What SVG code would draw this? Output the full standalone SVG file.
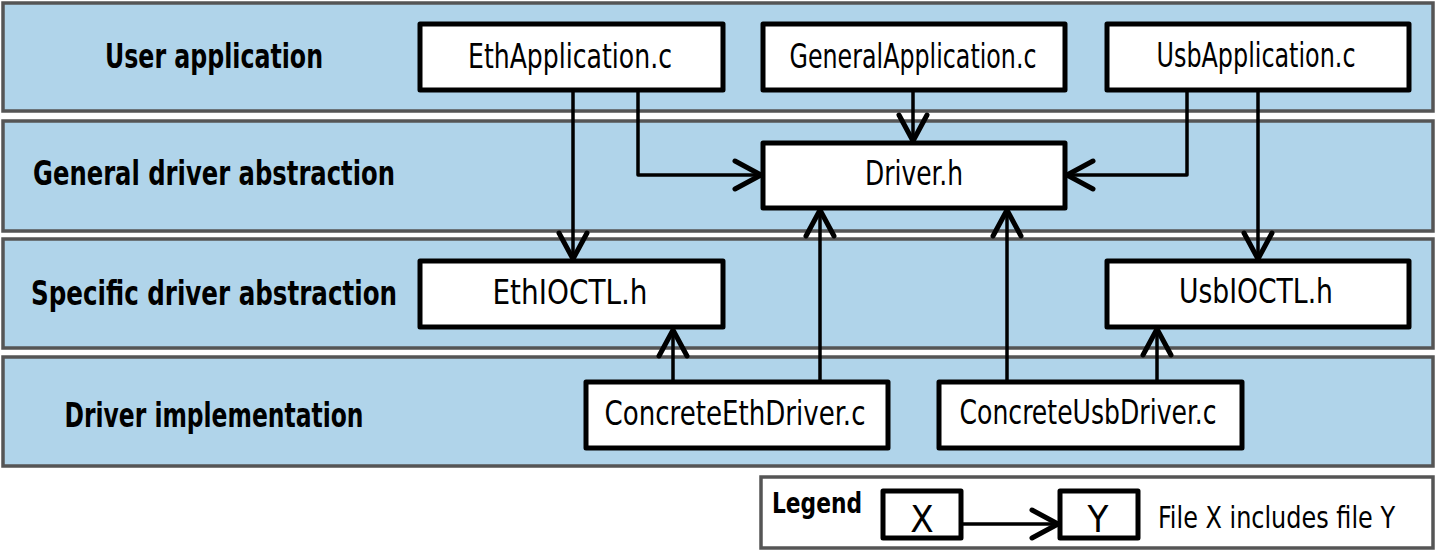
<svg xmlns="http://www.w3.org/2000/svg" width="1441" height="552" viewBox="0 0 1441 552">
  <style>
    .lane { fill: #b0d4ea; stroke: #555555; stroke-width: 3.5; }
    .legendbox { fill: #ffffff; stroke: #555555; stroke-width: 3.5; }
    .node rect { fill: #ffffff; stroke: #000000; stroke-width: 5; stroke-linejoin: round; }
    .lanelabel { font-family: "DejaVu Sans Condensed", "Liberation Sans", "DejaVu Sans", sans-serif; font-weight: bold; font-size: 34px; fill: #000000; text-anchor: middle; }
    .nodelabel { font-family: "DejaVu Sans Condensed", "Liberation Sans", "DejaVu Sans", sans-serif; font-size: 33px; fill: #000000; text-anchor: middle; }
    .legendtext { font-family: "DejaVu Sans Condensed", "Liberation Sans", "DejaVu Sans", sans-serif; fill: #000000; }
    .conn { fill: none; stroke: #000000; stroke-width: 3.5; stroke-linejoin: round; marker-end: url(#arrow); }
  </style>
  <defs>
    <marker id="arrow" markerUnits="userSpaceOnUse" viewBox="-30 -18 34 36" markerWidth="34" markerHeight="36" refX="0" refY="0" orient="auto" overflow="visible">
      <path d="M -26 -14 L 0 0 L -26 14" fill="none" stroke="#000000" stroke-width="5" stroke-linecap="round" stroke-linejoin="round"/>
    </marker>
  </defs>

  <g id="lanes">
    <rect class="lane" x="3" y="3" width="1430" height="108"/>
    <rect class="lane" x="3" y="121" width="1430" height="110"/>
    <rect class="lane" x="3" y="239" width="1430" height="109"/>
    <rect class="lane" x="3" y="357" width="1430" height="109"/>
    <text class="lanelabel" x="214" y="68" textLength="218" lengthAdjust="spacingAndGlyphs">User application</text>
    <text class="lanelabel" x="214" y="185" textLength="362" lengthAdjust="spacingAndGlyphs">General driver abstraction</text>
    <text class="lanelabel" x="214" y="305" textLength="366" lengthAdjust="spacingAndGlyphs">Specific driver abstraction</text>
    <text class="lanelabel" x="214" y="427" textLength="299" lengthAdjust="spacingAndGlyphs">Driver implementation</text>
  </g>

  <g id="connectors">
    <path class="conn" d="M 573 90 L 573 259"/>
    <path class="conn" d="M 638 90 L 638 175 L 761 175"/>
    <path class="conn" d="M 913 90 L 913 141"/>
    <path class="conn" d="M 1187 90 L 1187 175 L 1067 175"/>
    <path class="conn" d="M 1258 90 L 1258 259"/>
    <path class="conn" d="M 673 382 L 673 330"/>
    <path class="conn" d="M 820 382 L 820 210"/>
    <path class="conn" d="M 1007 382 L 1007 210"/>
    <path class="conn" d="M 1157 382 L 1157 329"/>
  </g>

  <g id="EthApplication" class="node">
    <rect x="420" y="24" width="303" height="66"/>
    <text class="nodelabel" x="570" y="68" textLength="204" lengthAdjust="spacingAndGlyphs">EthApplication.c</text>
  </g>
  <g id="GeneralApplication" class="node">
    <rect x="763" y="24" width="302" height="66"/>
    <text class="nodelabel" x="913" y="68" textLength="247" lengthAdjust="spacingAndGlyphs">GeneralApplication.c</text>
  </g>
  <g id="UsbApplication" class="node">
    <rect x="1107" y="24" width="302" height="66"/>
    <text class="nodelabel" x="1256" y="67" textLength="199" lengthAdjust="spacingAndGlyphs">UsbApplication.c</text>
  </g>
  <g id="DriverH" class="node">
    <rect x="763" y="143" width="302" height="65"/>
    <text class="nodelabel" x="914" y="185" textLength="98" lengthAdjust="spacingAndGlyphs">Driver.h</text>
  </g>
  <g id="EthIOCTL" class="node">
    <rect x="420" y="261" width="303" height="66"/>
    <text class="nodelabel" x="570" y="304" textLength="155" lengthAdjust="spacingAndGlyphs">EthIOCTL.h</text>
  </g>
  <g id="UsbIOCTL" class="node">
    <rect x="1107" y="261" width="302" height="66"/>
    <text class="nodelabel" x="1256" y="303" textLength="154" lengthAdjust="spacingAndGlyphs">UsbIOCTL.h</text>
  </g>
  <g id="ConcreteEthDriver" class="node">
    <rect x="586" y="382" width="302" height="66"/>
    <text class="nodelabel" x="735" y="425" textLength="261" lengthAdjust="spacingAndGlyphs">ConcreteEthDriver.c</text>
  </g>
  <g id="ConcreteUsbDriver" class="node">
    <rect x="939" y="382" width="303" height="66"/>
    <text class="nodelabel" x="1088" y="424" textLength="257" lengthAdjust="spacingAndGlyphs">ConcreteUsbDriver.c</text>
  </g>

  <g id="legend">
    <rect class="legendbox" x="761" y="477" width="672" height="71"/>
    <text class="legendtext" x="817" y="513" font-weight="bold" font-size="28" text-anchor="middle" textLength="90" lengthAdjust="spacingAndGlyphs">Legend</text>
    <g id="legend-x" class="node">
      <rect x="883" y="491" width="78" height="47"/>
      <text class="legendtext" x="922" y="532" font-size="38" text-anchor="middle">X</text>
    </g>
    <g id="legend-y" class="node">
      <rect x="1060" y="491" width="78" height="47"/>
      <text class="legendtext" x="1098" y="532" font-size="38" text-anchor="middle">Y</text>
    </g>
    <path class="conn" d="M 961 524 L 1058 524"/>
    <text class="legendtext" x="1158" y="528" font-size="30" textLength="237" lengthAdjust="spacingAndGlyphs">File X includes file Y</text>
  </g>
</svg>
